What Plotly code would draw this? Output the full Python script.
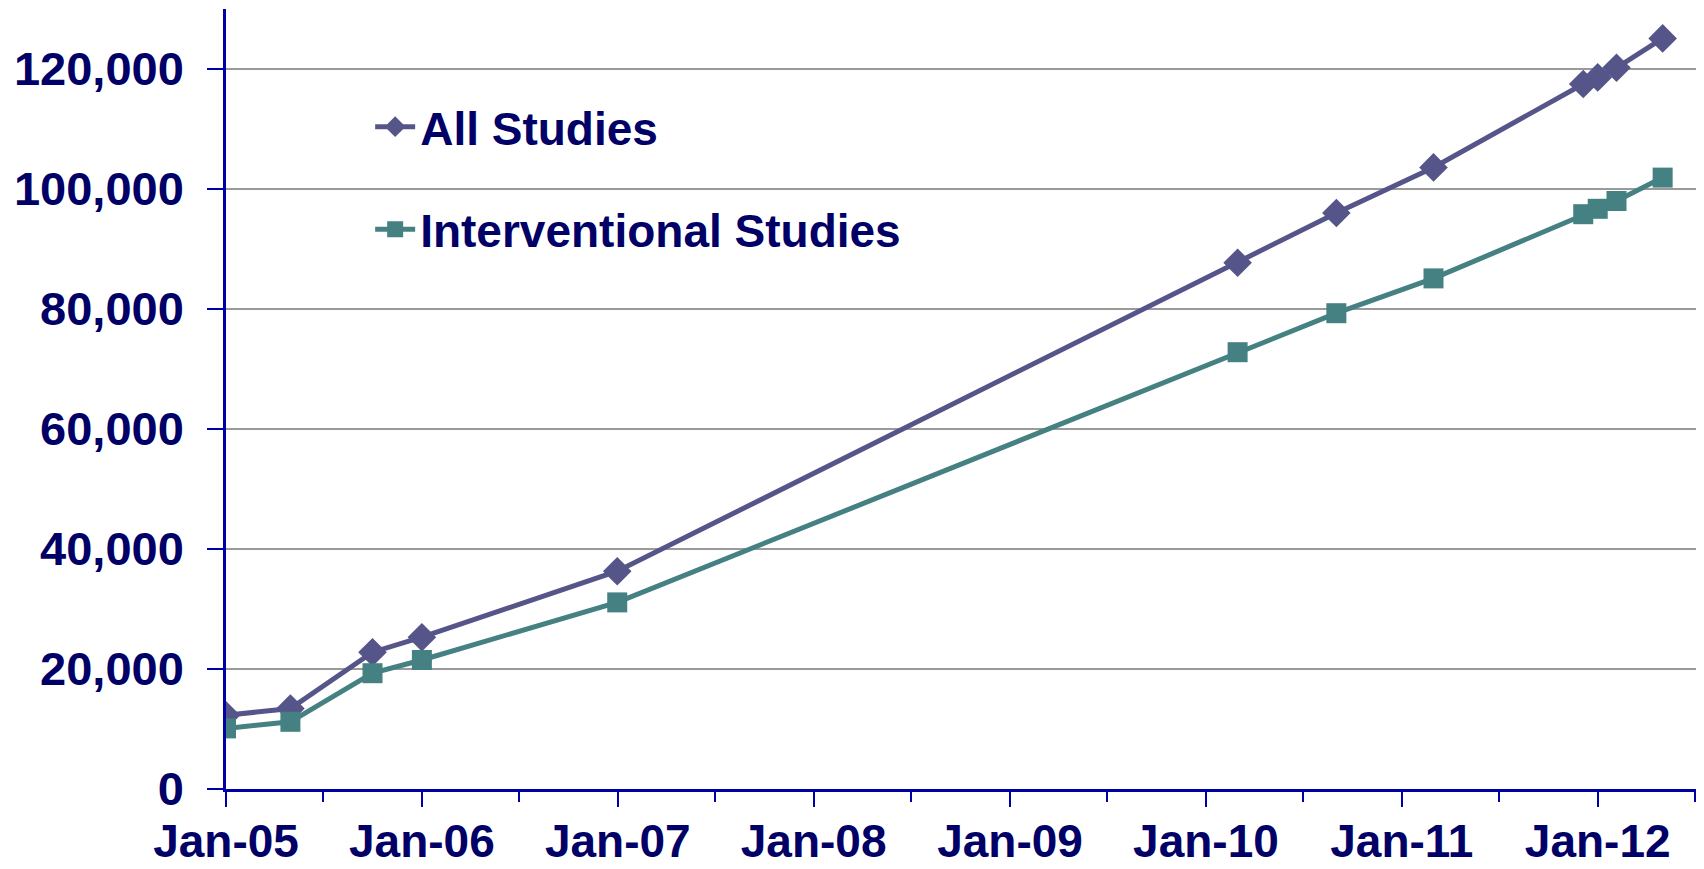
import plotly.graph_objects as go

dates = ["2005-01-01", "2005-05-01", "2005-10-01", "2006-01-01", "2006-12-31",
         "2010-03-01", "2010-09-01", "2011-03-01", "2011-12-05", "2012-01-01",
         "2012-02-05", "2012-05-01"]
all_studies = [12300, 13400, 22800, 25300, 36300, 87700, 96000, 103600,
               117500, 118600, 120200, 125100]
interventional = [10100, 11200, 19300, 21500, 31100, 72800, 79300, 85100,
                  95800, 96700, 98000, 101900]
y_ticks = [0, 20000, 40000, 60000, 80000, 100000, 120000]

NAVY = "#000066"
AXIS = "#0000A8"
FONT = "Liberation Sans, Arial, sans-serif"

fig = go.Figure()
fig.add_trace(go.Scatter(
    x=dates, y=all_studies, name="All Studies", mode="lines+markers",
    line=dict(color="#55558A", width=5),
    marker=dict(symbol="diamond", size=22, color="#55558A"),
    legend="legend",
))
fig.add_trace(go.Scatter(
    x=dates, y=interventional, name="Interventional Studies", mode="lines+markers",
    line=dict(color="#458082", width=5),
    marker=dict(symbol="square", size=20, color="#458082"),
    legend="legend2",
))

legend_common = dict(
    font=dict(family=FONT, size=46, color=NAVY, weight="bold"),
    bgcolor="rgba(0,0,0,0)", borderwidth=0, xanchor="left", yanchor="middle",
    itemwidth=40,
)

# page body has an 8px default margin, so the figure is sized to fit the window
fig.update_layout(
    width=1696, height=861,
    margin=dict(l=218, r=7, t=1, b=80, autoexpand=False),
    paper_bgcolor="white", plot_bgcolor="white",
    showlegend=True,
    legend=dict(x=0.098, y=0.849, **legend_common),
    legend2=dict(x=0.098, y=0.7175, **legend_common),
    xaxis=dict(
        type="date", automargin=False,
        range=["2005-01-01", "2012-07-04"],
        tick0="2005-01-01", dtick="M12", tickformat="%b-%y",
        ticks="outside", ticklen=15, tickwidth=2, tickcolor=AXIS,
        minor=dict(dtick="M6", ticks="outside", ticklen=10, tickwidth=2, tickcolor=AXIS, showgrid=False),
        showline=True, linecolor=AXIS, linewidth=2.5,
        showgrid=False, zeroline=False,
        tickfont=dict(family=FONT, size=46, color=NAVY, weight="bold"),
        ticklabelstandoff=-5,
    ),
    yaxis=dict(
        range=[0, 130000], automargin=False,
        tickvals=y_ticks, tickformat=",d",
        ticks="outside", ticklen=16, tickwidth=2, tickcolor=AXIS,
        showline=True, linecolor=AXIS, linewidth=2.5,
        showgrid=True, gridcolor="#9A9A9A", gridwidth=1.5,
        zeroline=False,
        tickfont=dict(family=FONT, size=47, color=NAVY, weight="bold"),
        ticklabelstandoff=14,
    ),
)

fig.write_html("out.html")
